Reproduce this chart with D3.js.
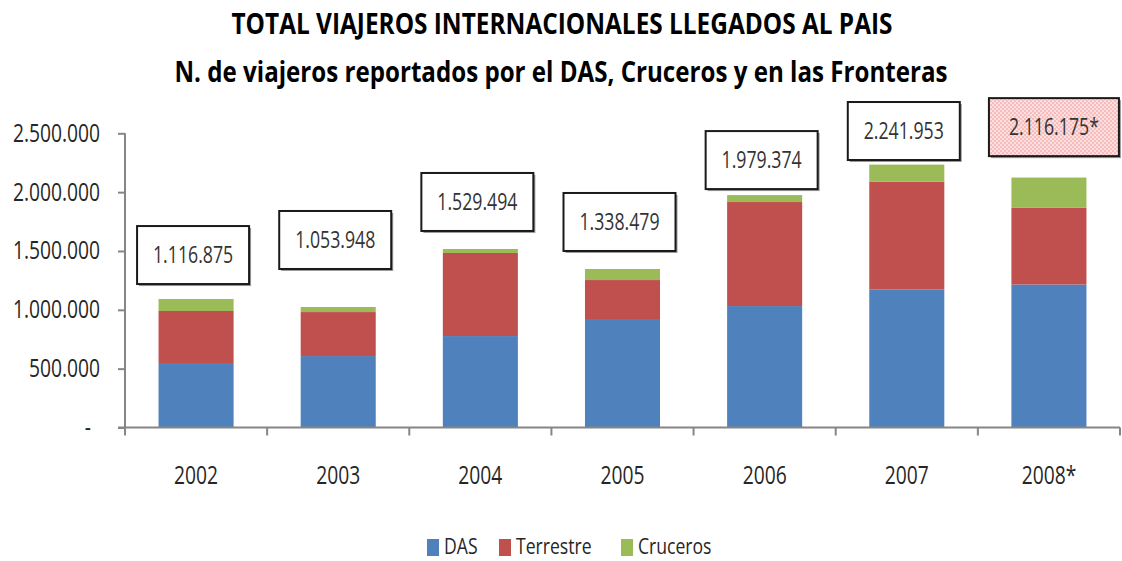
<!DOCTYPE html>
<html>
<head>
<meta charset="utf-8">
<script src="https://cdn.jsdelivr.net/npm/d3@7"></script>
<style>
  body { margin: 0; background: #fff; }
  text { font-family: 'Open Sans', sans-serif; fill: #262626; }
</style>
</head>
<body>
<script>
// Data
const years = ['2002', '2003', '2004', '2005', '2006', '2007', '2008*'];
const das = [548000, 607000, 777000, 922000, 1032000, 1172000, 1215000];
const terrestre = [442000, 374000, 706000, 331000, 884000, 918000, 654000];
const cruceros = [102000, 43000, 34000, 94000, 59000, 144000, 255000];
// totals written in the boxes
const totals = [1116875, 1053948, 1529494, 1338479, 1979374, 2241953, 2116175];
// level (in travellers) where each box bottom sits
const labelLevel = [1219000, 1347000, 1670000, 1500000, 2026000, 2273000, 2306000];
const yTicks = [0, 500000, 1000000, 1500000, 2000000, 2500000];

const seriesKeys = ['DAS', 'Terrestre', 'Cruceros'];
const colors = { DAS: '#4f81bd', Terrestre: '#c0504d', Cruceros: '#9bbb59' };

// narrow text, like the stretched Calibri of the picture
const SX = 0.77;

const locale = d3.formatLocale({ decimal: ',', thousands: '.', grouping: [3], currency: ['', ''] });
const fmt = locale.format(',d');

const rows = years.map((y, i) => ({ year: y, DAS: das[i], Terrestre: terrestre[i], Cruceros: cruceros[i] }));
const stacked = d3.stack().keys(seriesKeys)(rows);

const svg = d3.select('body').append('svg').attr('width', 1122).attr('height', 561);

const defs = svg.append('defs');
const pat = defs
  .append('pattern')
  .attr('id', 'pinkdots')
  .attr('width', 4)
  .attr('height', 4)
  .attr('patternUnits', 'userSpaceOnUse');
pat.append('rect').attr('width', 4).attr('height', 4).attr('fill', '#fde3e3');
pat.append('circle').attr('cx', 1).attr('cy', 1).attr('r', 0.9).attr('fill', '#f3a3a3');
pat.append('circle').attr('cx', 3).attr('cy', 3).attr('r', 0.9).attr('fill', '#f3a3a3');

// Titles
svg
  .append('text')
  .attr('x', 562)
  .attr('y', 34)
  .attr('text-anchor', 'middle')
  .attr('font-size', 29)
  .attr('font-weight', 'bold')
  .attr('textLength', 661)
  .attr('lengthAdjust', 'spacingAndGlyphs')
  .style('fill', '#000')
  .text('TOTAL VIAJEROS INTERNACIONALES LLEGADOS AL PAIS');

svg
  .append('text')
  .attr('x', 561)
  .attr('y', 82)
  .attr('text-anchor', 'middle')
  .attr('font-size', 28)
  .attr('font-weight', 'bold')
  .attr('textLength', 773)
  .attr('lengthAdjust', 'spacingAndGlyphs')
  .style('fill', '#000')
  .text('N. de viajeros reportados por el DAS, Cruceros y en las Fronteras');

// Scales
const x = d3.scaleBand().domain(years).range([125, 1120]).paddingInner(0.472).paddingOuter(0.236);
const y = d3.scaleLinear().domain([0, 2500000]).range([427.5, 133.3]);

// Bars
svg
  .append('g')
  .selectAll('g')
  .data(stacked)
  .join('g')
  .attr('fill', (d) => colors[d.key])
  .selectAll('rect')
  .data((d) => d)
  .join('rect')
  .attr('x', (d) => x(d.data.year))
  .attr('width', x.bandwidth())
  .attr('y', (d) => y(d[1]))
  .attr('height', (d) => y(d[0]) - y(d[1]));

// Y axis
const yAxis = svg
  .append('g')
  .attr('transform', 'translate(125,0)')
  .call(
    d3
      .axisLeft(y)
      .tickValues(yTicks)
      .tickSize(7)
      .tickFormat((d) => (d === 0 ? '-' : fmt(d)))
  );
yAxis.select('.domain').attr('stroke', '#868686').attr('stroke-width', 2).attr('d', 'M0,133.3V435');
yAxis.selectAll('.tick line').attr('stroke', '#868686').attr('stroke-width', 2);
yAxis
  .selectAll('.tick text')
  .attr('x', null)
  .attr('dy', null)
  .attr('text-anchor', 'end')
  .attr('font-size', 25)
  .attr('font-family', null)
  .attr('fill', null)
  .attr('transform', (d) => `translate(${d === 0 ? -34 : -25},8) scale(${SX},1)`);

// X axis
const xAxis = svg
  .append('g')
  .attr('transform', 'translate(0,427.5)')
  .call(d3.axisBottom(x).tickSize(0));
xAxis.select('.domain').attr('stroke', '#868686').attr('stroke-width', 2).attr('d', 'M118,0H1120');
xAxis
  .selectAll('.tick text')
  .attr('y', null)
  .attr('dy', null)
  .attr('font-size', 25)
  .attr('font-family', null)
  .attr('fill', null)
  .attr('transform', `translate(0,56) scale(${SX},1)`);

// tick marks between categories
const bounds = d3.range(years.length + 1).map((i) => x.range()[0] + i * x.step());
xAxis
  .selectAll('.bound')
  .data(bounds)
  .join('line')
  .attr('class', 'bound')
  .attr('x1', (d) => d)
  .attr('x2', (d) => d)
  .attr('y1', 0)
  .attr('y2', 8)
  .attr('stroke', '#868686')
  .attr('stroke-width', 2);

// Total boxes
const last = years.length - 1;
const boxes = svg
  .append('g')
  .selectAll('g')
  .data(years)
  .join('g')
  .attr('transform', (d, i) => {
    const cx = x(d) + x.bandwidth() / 2 + (i === last ? 5 : -3);
    return `translate(${cx},${y(labelLevel[i])})`;
  });

boxes
  .append('rect')
  .attr('x', (d, i) => (i === last ? -65 : -56) + 2)
  .attr('y', -58 + 2)
  .attr('width', (d, i) => (i === last ? 130 : 112))
  .attr('height', 58)
  .attr('fill', '#9a9a9a');

boxes
  .append('rect')
  .attr('x', (d, i) => (i === last ? -65 : -56))
  .attr('y', -58)
  .attr('width', (d, i) => (i === last ? 130 : 112))
  .attr('height', 58)
  .attr('fill', (d, i) => (i === last ? 'url(#pinkdots)' : '#fff'))
  .attr('stroke', '#1a1a1a')
  .attr('stroke-width', 2);

boxes
  .append('text')
  .attr('text-anchor', 'middle')
  .attr('font-size', 23)
  .attr('transform', `translate(0,-21) scale(${SX},1)`)
  .style('fill', '#333')
  .text((d, i) => fmt(totals[i]) + (i === last ? '*' : ''));

// Legend
const legendItems = [
  { key: 'DAS', x: 427 },
  { key: 'Terrestre', x: 499 },
  { key: 'Cruceros', x: 621 },
];
const legend = svg.append('g').selectAll('g').data(legendItems).join('g').attr('transform', (d) => `translate(${d.x},539)`);
legend
  .append('rect')
  .attr('width', 12)
  .attr('height', 17)
  .attr('fill', (d) => colors[d.key]);
legend
  .append('text')
  .attr('font-size', 22)
  .attr('transform', `translate(17,15) scale(0.8,1)`)
  .text((d) => d.key);
</script>
</body>
</html>
